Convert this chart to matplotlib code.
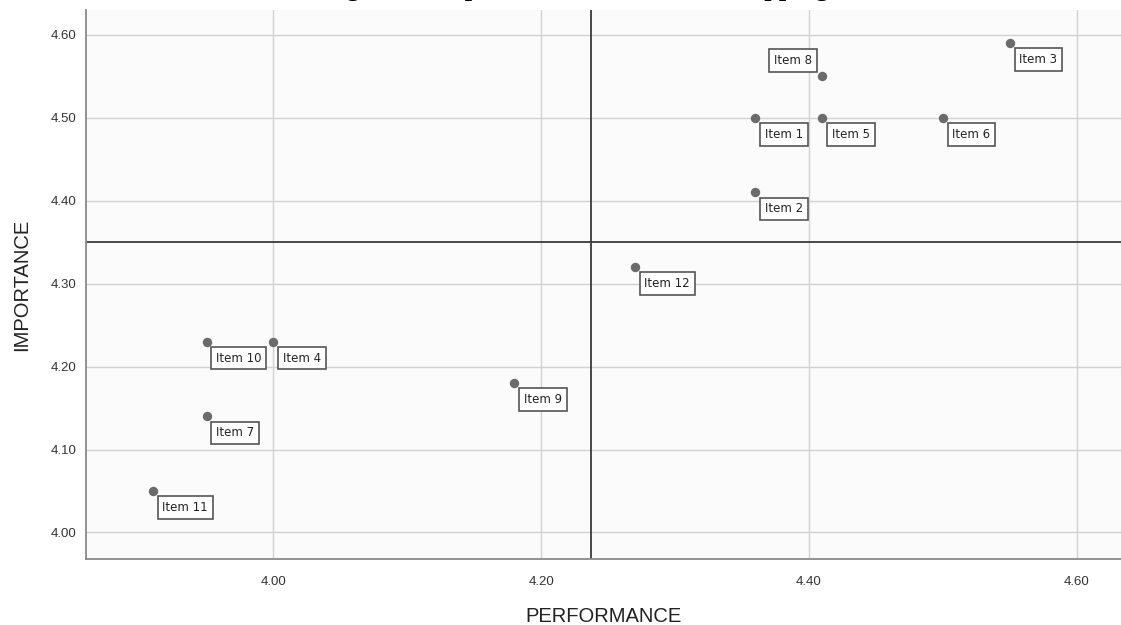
import numpy as np
import matplotlib
matplotlib.use("Agg")
import matplotlib.pyplot as plt

# item scores
items = ["Item 1", "Item 2", "Item 3", "Item 4", "Item 5", "Item 6",
         "Item 7", "Item 8", "Item 9", "Item 10", "Item 11", "Item 12"]
performance = [4.36, 4.36, 4.55, 4.00, 4.41, 4.50, 3.95, 4.41, 4.18, 3.95, 3.91, 4.27]
importance = [4.50, 4.41, 4.59, 4.23, 4.50, 4.50, 4.14, 4.55, 4.18, 4.23, 4.05, 4.32]
x_ticks = [4.0, 4.2, 4.4, 4.6]
y_ticks = [4.0, 4.1, 4.2, 4.3, 4.4, 4.5, 4.6]

plt.rcParams['font.family'] = ['Liberation Sans', 'DejaVu Sans']

fig = plt.figure(figsize=(11.21, 6.25), dpi=100)
ax = fig.add_axes([86 / 1121, 1 - 559 / 625, 1 - 86 / 1121, (559 - 10) / 625])
ax.set_facecolor('#fbfbfb')

ax.set_xlim(3.860, 4.633)
ax.set_ylim(3.968, 4.630)
ax.set_xticks(x_ticks)
ax.set_yticks(y_ticks)
ax.set_xticklabels(["%.2f" % v for v in x_ticks])
ax.set_yticklabels(["%.2f" % v for v in y_ticks])
ax.tick_params(length=0, labelsize=9.5, labelcolor='#333333')
ax.tick_params(axis='x', pad=12)
ax.tick_params(axis='y', pad=7)
ax.grid(True, color='#d2d2d2', linewidth=1.0)
ax.set_axisbelow(True)

for side in ['top', 'right']:
    ax.spines[side].set_visible(False)
for side in ['left', 'bottom']:
    ax.spines[side].set_color('#8a8a8a')
    ax.spines[side].set_linewidth(1.3)

# mean reference lines
ax.axvline(np.mean(performance), color='#3a3a3a', linewidth=1.3, zorder=2)
ax.axhline(np.mean(importance), color='#3a3a3a', linewidth=1.3, zorder=2)

ax.scatter(performance, importance, s=46, color='#6b6b6b', zorder=3, linewidths=0)

box = dict(boxstyle='square,pad=0.4', facecolor='white', edgecolor='#555555', linewidth=1.2)
for name, px, py in zip(items, performance, importance):
    if name == "Item 8":
        ax.annotate(name, (px, py), xytext=(-7.5, 6.8), textcoords='offset points',
                    ha='right', va='bottom', fontsize=8.5, family='DejaVu Sans',
                    color='#222222', bbox=box, zorder=4)
    else:
        ax.annotate(name, (px, py), xytext=(6.8, -7.2), textcoords='offset points',
                    ha='left', va='top', fontsize=8.5, family='DejaVu Sans',
                    color='#222222', bbox=box, zorder=4)

ax.set_xlabel("PERFORMANCE", fontsize=14.5, color='#222222', labelpad=14)
ax.set_ylabel("IMPORTANCE", fontsize=14.5, color='#222222', labelpad=14)

# title sits mostly above the visible area, as in the source
fig.text(576 / 1121, 1 + 4 / 625, "Figure 1: Importance-Performance Mapping",
         ha='center', va='baseline', fontsize=19, fontweight='bold',
         family='Liberation Serif', color='black')

fig.savefig("out.png", dpi=100)
